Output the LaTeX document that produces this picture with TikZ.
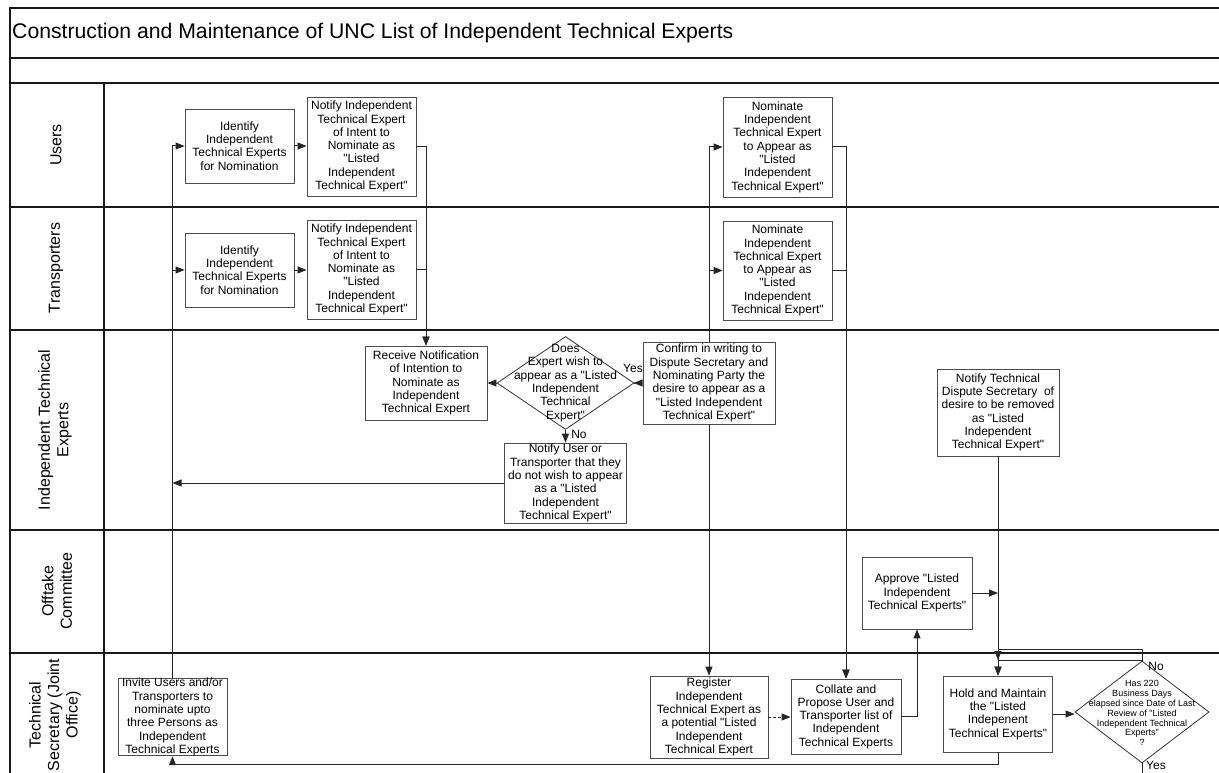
\documentclass[tikz,border=0pt]{standalone}
\usepackage{fontspec}
\setmainfont{Liberation Sans}[Ligatures=TeXOff]
\usetikzlibrary{shapes.geometric,arrows.meta}
\begin{document}
\begin{tikzpicture}[x=1pt,y=-1pt,
  frame/.style={draw=black!90,line width=1.1pt},
  box/.style={draw=black!70,line width=0.8pt,fill=white,align=center,inner sep=0pt,font=\fontsize{12}{13.3}\selectfont},
  dshape/.style={diamond,draw=black!80,line width=0.8pt,fill=white,inner sep=0pt},
  dtext/.style={align=center,inner sep=0pt,font=\fontsize{12}{13.3}\selectfont},
  dtextsmall/.style={align=center,inner sep=0pt,font=\fontsize{9}{9.9}\selectfont},
  lane/.style={rotate=90,align=center,inner sep=0pt,font=\fontsize{16}{18.5}\selectfont},
  lbl/.style={inner sep=0pt,font=\fontsize{12}{13}\selectfont},
  con/.style={draw=black!85,line width=1pt},
  arr/.style={con,-{Triangle[length=9pt,width=7pt]}}]
\useasboundingbox (0,0) rectangle (1219,773);
\fill[white] (0,0) rectangle (1219,773);
% frame
\draw[frame] (1219,8) -- (10,8) -- (10,773);
\draw[frame] (10,58) -- (1219,58);
\draw[frame] (10,83) -- (1219,83);
\draw[frame] (10,207) -- (1219,207);
\draw[frame] (10,330) -- (1219,330);
\draw[frame] (10,530) -- (1219,530);
\draw[frame] (10,653) -- (1219,653);
\draw[frame] (104,83) -- (104,773);
\node[anchor=west,inner sep=0pt,font=\fontsize{21.2}{25}\selectfont] (title) at (12,33) {Construction and Maintenance of UNC List of Independent Technical Experts};
% lane labels
\node[lane] (lU) at (56,145) {Users};
\node[lane] (lT) at (56,268) {Transporters};
\node[lane] (lI) at (55,430) {Independent Technical\\Experts};
\node[lane] (lO) at (57,591) {Offtake\\Committee};
\node[lane] (lS) at (55,715) {Technical\\Secretary (Joint\\Office)};
% boxes
\node[box,minimum width=109pt,minimum height=74pt] (idU) at (239.5,146) {Identify\\Independent\\Technical Experts\\for Nomination};
\node[box,minimum width=109pt,minimum height=99pt] (ntU) at (361.5,146.5) {Notify Independent\\Technical Expert\\of Intent to\\Nominate as\\"Listed\\Independent\\Technical Expert"};
\node[box,minimum width=109pt,minimum height=74pt] (idT) at (239.5,270) {Identify\\Independent\\Technical Experts\\for Nomination};
\node[box,minimum width=109pt,minimum height=99pt] (ntT) at (361.5,269.5) {Notify Independent\\Technical Expert\\of Intent to\\Nominate as\\"Listed\\Independent\\Technical Expert"};
\node[box,minimum width=109pt,minimum height=100pt] (nomU) at (777.5,147) {Nominate\\Independent\\Technical Expert\\to Appear as\\"Listed\\Independent\\Technical Expert"};
\node[box,minimum width=109pt,minimum height=99pt] (nomT) at (777.5,270.5) {Nominate\\Independent\\Technical Expert\\to Appear as\\"Listed\\Independent\\Technical Expert"};
\node[box,minimum width=122pt,minimum height=74pt] (recv) at (426,383) {Receive Notification\\of Intention to\\Nominate as\\Independent\\Technical Expert};
\node[dshape,minimum width=137pt,minimum height=93pt] (dia1) at (565.5,383) {};
\node[dtext] (dia1t) at (dia1) {Does\\Expert wish to\\appear as a "Listed\\Independent\\Technical\\Expert"};
\node[box,minimum width=132pt,minimum height=82pt] (conf) at (709,383) {Confirm in writing to\\Dispute Secretary and\\Nominating Party the\\desire to appear as a\\"Listed Independent\\Technical Expert"};
\node[box,minimum width=122pt,minimum height=80pt] (notU) at (565.5,483) {Notify User or\\Transporter that they\\do not wish to appear\\as a "Listed\\Independent\\Technical Expert"};
\node[box,minimum width=122pt,minimum height=87pt] (ntds) at (998,412.5) {Notify Technical\\Dispute Secretary\ \ of\\desire to be removed\\as "Listed\\Independent\\Technical Expert"};
\node[box,minimum width=110pt,minimum height=72pt] (appr) at (917,593) {Approve "Listed\\Independent\\Technical Experts"};
\node[box,minimum width=109pt,minimum height=74pt] (inv) at (172.5,717) {Invite Users and/or\\Transporters to\\nominate upto\\three Persons as\\Independent\\Technical Experts};
\node[box,minimum width=118pt,minimum height=82pt] (reg) at (709,717) {Register\\Independent\\Technical Expert as\\a potential "Listed\\Independent\\Technical Expert};
\node[box,minimum width=110pt,minimum height=75pt] (coll) at (846,716.5) {Collate and\\Propose User and\\Transporter list of\\Independent\\Technical Experts};
\node[box,minimum width=109pt,minimum height=76pt] (hold) at (998,714) {Hold and Maintain\\the "Listed\\Indepenent\\Technical Experts"};
\node[dshape,minimum width=134pt,minimum height=102pt] (dia2) at (1142,712) {};
\node[dtextsmall] (dia2t) at (1142,713) {Has 220\\Business Days\\elapsed since Date of Last\\Review of "Listed\\Independent Technical\\Experts"\\?};
% labels
\node[lbl] (yes1) at (633,368) {Yes};
\node[lbl] (no1) at (579,434) {No};
\node[lbl] (no2) at (1156,666) {No};
\node[lbl] (yes2) at (1156,765) {Yes};
% coordinates
\coordinate (k0) at (998,649);
\coordinate (k1) at (998,660);
\coordinate (b1) at (998,764);
\coordinate (b2) at (172.5,764);
\coordinate (yesEnd) at (1142,773);
% connectors
\draw[arr] (inv.north) |- (idU.west);
\draw[arr] (inv.north) |- (idT.west);
\draw[arr] (idU.east) -- (idU.east -| ntU.west);
\draw[arr] (idT.east) -- (idT.east -| ntT.west);
\draw[arr] (ntU.east) -| (recv.north);
\draw[arr] (ntT.east) -| (recv.north);
\draw[arr] (dia1.west) -- (recv.east);
\draw[con,-{Triangle[length=9pt,width=7pt,reversed]}] (dia1.east) -- (conf.west);
\draw[arr] (dia1.south) -- (notU.north);
\draw[arr] (notU.west) -- (notU.west -| inv.north);
\draw[arr] (conf.north) |- (nomU.west);
\draw[arr] (conf.north) |- (nomT.west);
\draw[arr] (conf.south) -- (reg.north);
\draw[arr] (nomU.east) -| (coll.north);
\draw[arr] (nomT.east) -| (coll.north);
\draw[arr,dash pattern=on 3pt off 2pt] (reg.east) -- (reg.east -| coll.west);
\draw[arr] (coll.east) -| (appr.south);
\draw[arr] (appr.east) -- (appr.east -| ntds.south);
\draw[arr] (ntds.south) -- (hold.north);
\draw[arr] (dia2.north) |- (k0) -- (k1);
\draw[arr] (dia2.north) -| (hold.north);
\draw[arr] (hold.east) -- (hold.east -| dia2.west);
\draw[con] (dia2.south) -- (yesEnd);
\draw[arr] (hold.south) -- (b1) -- (b2) -- (inv.south);
\end{tikzpicture}
\end{document}
